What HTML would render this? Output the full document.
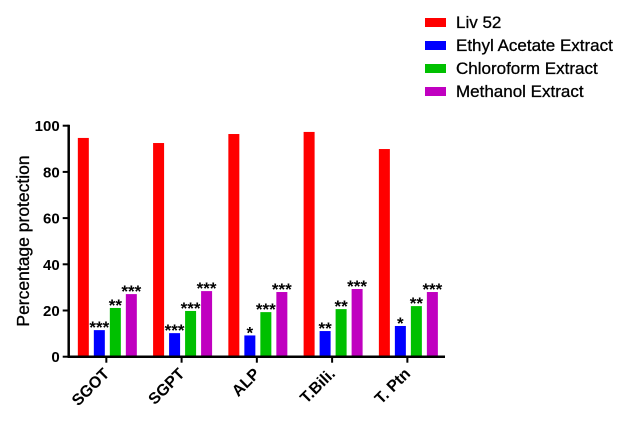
<!DOCTYPE html>
<html><head><meta charset="utf-8"><style>
body{margin:0;background:#fff;width:629px;height:419px;overflow:hidden}
svg{font-family:"Liberation Sans",Arial,sans-serif}
</style></head><body>
<svg id="chart" width="629" height="419"></svg>
<script>
const categories=["SGOT","SGPT","ALP","T.Bili.","T. Ptn"];
const seriesNames=["Liv 52","Ethyl Acetate Extract","Chloroform Extract","Methanol Extract"];
const liv52=[94.7,92.5,96.4,97.3,89.9];
const ethylAcetate=[11.5,10.2,9.2,11.1,13.3];
const chloroform=[21.1,19.8,19.3,20.6,21.9];
const methanol=[27.1,28.4,28.0,29.3,28.0];
const starsEthyl=["***","***","*","**","*"];
const starsChloro=["**","***","***","**","**"];
const starsMeth=["***","***","***","***","***"];
const yTicks=[0,20,40,60,80,100];
const colors=["#ff0000","#0000ff","#00c000","#c000c0"];
const NS="http://www.w3.org/2000/svg";
const svg=document.getElementById('chart');
const x0=68.7,x1=445,y0=356.7,y100=125.7;
const y=v=>y0-(v/100)*(y0-y100);
const gw=(x1-x0)/categories.length;
const gc=i=>x0+gw*(i+0.5);
function mk(t,a,p){const e=document.createElementNS(NS,t);for(const k in a)e.setAttribute(k,a[k]);(p||svg).appendChild(e);return e;}
const series=[liv52,ethylAcetate,chloroform,methanol];
const stars=[null,starsEthyl,starsChloro,starsMeth];
const offs=[-23,-7,9,25],bw=11;
series.forEach((s,si)=>{s.forEach((v,i)=>{
 const cx=gc(i)+offs[si];
 const r=mk('rect',{x:cx-bw/2,y:y(v),width:bw,height:y0-y(v),fill:colors[si]});
 
 
 if(stars[si]){const t=mk('text',{x:cx,y:y(v)+3,'text-anchor':'middle','font-size':'17','font-weight':'bold','fill':'#000'});t.textContent=stars[si][i];
 
 }
});});
const ya=mk('line',{x1:x0,y1:y100-1,x2:x0,y2:y0+1,stroke:'#000','stroke-width':2.5});

const xa=mk('line',{x1:x0-1,y1:y0,x2:x1,y2:y0,stroke:'#000','stroke-width':2.5});

yTicks.forEach(v=>{
 mk('line',{x1:x0-6,y1:y(v),x2:x0,y2:y(v),stroke:'#000','stroke-width':2});
 const t=mk('text',{x:x0-9,y:y(v)+5.5,'text-anchor':'end','font-size':'15','font-weight':'bold'});t.textContent=v;
 
});
categories.forEach((c,i)=>{
 mk('line',{x1:gc(i),y1:y0,x2:gc(i),y2:y0+6,stroke:'#000','stroke-width':2});
 const t=mk('text',{x:gc(i)+4,y:y0+18,'text-anchor':'end','font-size':'16','font-weight':'bold',transform:`rotate(-45 ${gc(i)+4} ${y0+18})`});t.textContent=c;
 
});
const yt=mk('text',{x:29,y:241,'text-anchor':'middle','font-size':'17.5','stroke':'#000','stroke-width':'0.3',transform:'rotate(-90 29 241)'});yt.textContent='Percentage protection';

seriesNames.forEach((n,i)=>{
 const ly=22+i*23;
 const r=mk('rect',{x:425,y:ly-4,width:21,height:9,fill:colors[i]});
 
 const t=mk('text',{x:456,y:ly+6,'font-size':'17','stroke':'#000','stroke-width':'0.3'});t.textContent=n;
 
});
</script>
</body></html>
